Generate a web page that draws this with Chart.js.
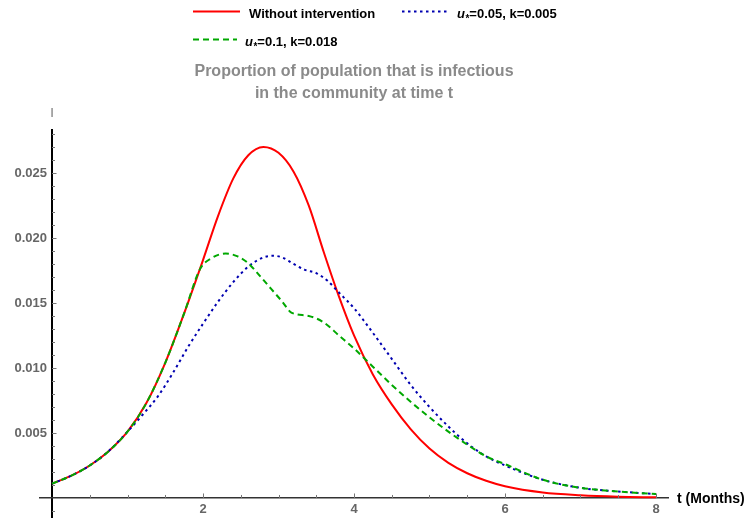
<!DOCTYPE html>
<html><head><meta charset="utf-8">
<script src="https://cdn.jsdelivr.net/npm/chart.js@4"></script>
<style>html,body{margin:0;padding:0;background:#fff}</style>
</head><body>
<canvas id="c" width="748" height="518"></canvas>
<script>
// ---- data ----
const seriesNames = ['Without intervention', 'u*=0.05, k=0.005', 'u*=0.1, k=0.018'];
const titleLines = ['Proportion of population that is infectious', 'in the community at time t'];
const xAxisLabel = 't (Months)';
const yAxisLabel = 'I';

const tRed = [0, 0.25, 0.5, 0.75, 1.0, 1.25, 1.5, 1.75, 2.0, 2.2, 2.4, 2.6, 2.8, 3.0, 3.2, 3.4, 3.6, 3.8, 4.0, 4.25, 4.5, 4.75, 5.0, 5.25, 5.5, 5.75, 6.0, 6.5, 7.0, 7.5, 8.0];
const iRed = [0.0011, 0.0017, 0.0025, 0.0036, 0.0051, 0.0073, 0.0104, 0.0142, 0.0183, 0.0217, 0.02456, 0.02636, 0.0270, 0.02655, 0.0251, 0.0225, 0.0189, 0.0155, 0.0125, 0.0095, 0.0072, 0.0053, 0.0038, 0.0027, 0.0019, 0.00132, 0.0009, 0.00042, 0.00021, 0.0001, 0.00005];

const tBlue = [0, 0.25, 0.5, 0.75, 1.0, 1.2, 1.4, 1.6, 1.8, 2.0, 2.2, 2.4, 2.6, 2.8, 2.93, 3.05, 3.2, 3.35, 3.5, 3.65, 3.8, 4.0, 4.25, 4.5, 4.75, 5.0, 5.25, 5.5, 5.75, 6.0, 6.5, 7.0, 7.5, 8.0];
const iBlue = [0.0011, 0.0017, 0.0025, 0.0036, 0.0051, 0.0064, 0.0078, 0.0096, 0.0116, 0.0134, 0.0151, 0.0166, 0.0178, 0.0185, 0.01863, 0.0185, 0.0180, 0.01755, 0.0173, 0.0167, 0.0158, 0.0146, 0.0127, 0.0107, 0.0087, 0.0070, 0.0055, 0.0042, 0.0032, 0.0025, 0.0014, 0.00078, 0.0005, 0.0003];

const tGreen = [0, 0.25, 0.5, 0.75, 1.0, 1.25, 1.5, 1.75, 1.96, 2.1, 2.3, 2.45, 2.6, 2.75, 2.9, 3.05, 3.17, 3.4, 3.6, 3.8, 4.0, 4.25, 4.5, 4.75, 5.0, 5.25, 5.5, 5.75, 6.0, 6.5, 7.0, 7.5, 8.0];
const iGreen = [0.0011, 0.0017, 0.0025, 0.0036, 0.0051, 0.0073, 0.0104, 0.0142, 0.0176, 0.0184, 0.0188, 0.0186, 0.01805, 0.0171, 0.0161, 0.0151, 0.01426, 0.0140, 0.0135, 0.0125, 0.0115, 0.0101, 0.0087, 0.0074, 0.0062, 0.0051, 0.0041, 0.0032, 0.0026, 0.0014, 0.00078, 0.0005, 0.0003];

const xMajorTicks = [2, 4, 6, 8];
const yMajorTicks = [0.005, 0.010, 0.015, 0.020, 0.025];

// ---- styles ----
const FONT = "'Liberation Sans', Arial, sans-serif";
const RED = '#ff0000', BLUE = '#0000b0', GREEN = '#00a800';
const X_MIN = -0.159, X_MAX = 8.159, Y_MIN = -0.00154, Y_MAX = 0.02838;
const Y_LABEL_GAP = 0.066; // y tick labels sit a little left of the y axis

const pts = (ts, vs) => ts.map((t, i) => ({x: t, y: vs[i]}));
const isMajor = (v, list, eps) => list.some(m => Math.abs(m - v) < eps);
const zeroPad = s => { s.paddingTop = 0; s.paddingBottom = 0; s.paddingLeft = 0; s.paddingRight = 0; };

const decoPlugin = {
  id: 'deco',
  afterDraw(chart) {
    const {ctx, scales: {x, y}} = chart;
    const x0 = x.getPixelForValue(0), y0 = y.getPixelForValue(0);
    ctx.save();
    // inward tick marks
    ctx.strokeStyle = '#777';
    ctx.lineWidth = 1;
    x.ticks.forEach(t => {
      if (Math.abs(t.value) < 1e-9) return;
      const px = Math.round(x.getPixelForValue(t.value)) + 0.5;
      const len = isMajor(t.value, xMajorTicks, 1e-6) ? 4.5 : 3;
      ctx.beginPath(); ctx.moveTo(px, y0); ctx.lineTo(px, y0 - len); ctx.stroke();
    });
    y.ticks.forEach(t => {
      if (Math.abs(t.value) < 1e-9) return;
      const py = Math.round(y.getPixelForValue(t.value)) + 0.5;
      const len = isMajor(t.value, yMajorTicks, 1e-7) ? 4.5 : 3;
      ctx.beginPath(); ctx.moveTo(x0, py); ctx.lineTo(x0 + len, py); ctx.stroke();
    });
    // axis labels
    ctx.fillStyle = '#777';
    ctx.font = '13px ' + FONT;
    ctx.textAlign = 'center'; ctx.textBaseline = 'middle';
    ctx.fillText(yAxisLabel, x0, 113);
    ctx.fillStyle = '#000';
    ctx.font = 'bold 14px ' + FONT;
    ctx.textAlign = 'left';
    ctx.fillText(xAxisLabel, x.right + 9, y0 + 1);

    // legend
    const drawKey = (x1, x2, yy, color, dash) => {
      ctx.save();
      ctx.strokeStyle = color; ctx.lineWidth = 2; ctx.setLineDash(dash);
      ctx.beginPath(); ctx.moveTo(x1, yy); ctx.lineTo(x2, yy); ctx.stroke();
      ctx.restore();
    };
    const drawUText = (xx, base, rest) => {
      ctx.textAlign = 'left'; ctx.textBaseline = 'alphabetic'; ctx.fillStyle = '#000';
      ctx.font = 'italic bold 13px ' + FONT;
      ctx.fillText('u', xx, base); xx += ctx.measureText('u').width + 0.5;
      ctx.font = 'bold 10px ' + FONT;
      ctx.fillText('*', xx, base + 4.5); xx += ctx.measureText('*').width;
      ctx.font = 'bold 13px ' + FONT;
      ctx.fillText(rest, xx, base);
    };
    drawKey(193, 240, 11.5, RED, []);
    ctx.fillStyle = '#000'; ctx.font = 'bold 13px ' + FONT;
    ctx.textAlign = 'left'; ctx.textBaseline = 'alphabetic';
    ctx.fillText(seriesNames[0], 249, 17.5);
    drawKey(402, 447, 11.5, BLUE, [2.5, 3.5]);
    drawUText(457, 17.5, seriesNames[1].slice(2));
    drawKey(193, 237, 39.5, GREEN, [6, 4]);
    drawUText(245, 45.5, seriesNames[2].slice(2));
    ctx.restore();
  }
};

new Chart(document.getElementById('c'), {
  type: 'line',
  data: {
    datasets: [
      {label: seriesNames[2], data: pts(tGreen, iGreen), borderColor: GREEN, borderWidth: 2, borderDash: [6, 4], order: 0},
      {label: seriesNames[1], data: pts(tBlue, iBlue), borderColor: BLUE, borderWidth: 2, borderDash: [2.5, 3.5], order: 1},
      {label: seriesNames[0], data: pts(tRed, iRed), borderColor: RED, borderWidth: 2, order: 2}
    ]
  },
  options: {
    responsive: false,
    animation: false,
    devicePixelRatio: 1,
    elements: {point: {radius: 0}, line: {cubicInterpolationMode: 'monotone', fill: false}},
    layout: {padding: {top: 61, left: 40, right: 80, bottom: 0}},
    plugins: {
      legend: {display: false},
      tooltip: {enabled: false},
      title: {
        display: true, fullSize: false, text: titleLines, color: '#8a8a8a',
        font: {family: FONT, size: 16, weight: 'bold', lineHeight: 1.375},
        padding: {top: 0, bottom: 24}
      }
    },
    scales: {
      x: {
        type: 'linear', position: {y: 0}, min: X_MIN, max: X_MAX,
        afterFit: s => { s.height = 0; zeroPad(s); },
        grid: {
          display: true, drawOnChartArea: true, drawTicks: false,
          color: c => (c.tick && Math.abs(c.tick.value) < 1e-9 ? '#000' : 'rgba(0,0,0,0)'),
          lineWidth: c => (c.tick && Math.abs(c.tick.value) < 1e-9 ? 2 : 0)
        },
        border: {display: true, color: '#333', width: 1.4},
        ticks: {
          stepSize: 0.5, autoSkip: false, includeBounds: false, maxRotation: 0, padding: 4,
          color: '#666', font: {family: FONT, size: 13, weight: 'bold'},
          callback: v => (isMajor(v, xMajorTicks, 1e-6) ? String(Math.round(v)) : '')
        }
      },
      y: {
        type: 'linear', position: {x: -Y_LABEL_GAP}, min: Y_MIN, max: Y_MAX,
        afterFit: s => { s.width = 0; zeroPad(s); },
        grid: {display: false, drawTicks: false},
        border: {display: false},
        ticks: {
          stepSize: 0.001, autoSkip: false, includeBounds: false, padding: 0,
          color: '#666', font: {family: FONT, size: 13, weight: 'bold'},
          callback: v => (isMajor(v, yMajorTicks, 1e-7) ? v.toFixed(3) : '')
        }
      }
    }
  },
  plugins: [decoPlugin]
});
</script>
</body></html>
